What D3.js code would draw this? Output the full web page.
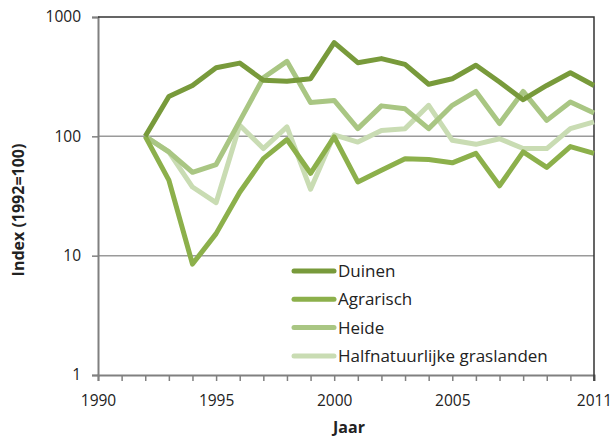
<!DOCTYPE html>
<html>
<head>
<meta charset="utf-8">
<script src="https://cdn.jsdelivr.net/npm/d3@7"></script>
<style>
  body { margin: 0; background: #fff; }
  text { font-family: "Open Sans", Lato, sans-serif; fill: #222; }
</style>
</head>
<body>
<svg id="chart" width="614" height="439"></svg>
<script>
// index values, 1992 = 100
var years = d3.range(1992, 2012);
var duinen = [100, 216, 267, 376, 411, 295, 290, 304, 610, 414, 448, 401, 273, 304, 394, 285, 203, 267, 341, 267];
var agrarisch = [100, 43, 8.5, 15.3, 34, 65, 94, 49, 99, 41.5, 52, 65, 64, 60, 72, 38.5, 74, 55, 82, 72];
var heide = [100, 74, 50, 58, 134, 310, 425, 192, 200, 116, 180, 170, 116, 182, 238, 128, 238, 136, 194, 157];
var halfnat = [100, 74, 37.6, 27.8, 124, 79, 120, 36, 103, 89.6, 112, 116, 182, 92.6, 85.7, 95.5, 79, 79, 116, 132];

var seriesNames = ["Duinen", "Agrarisch", "Heide", "Halfnatuurlijke graslanden"];
var seriesColors = ["#789a3b", "#8cb04b", "#a9c683", "#c9dcb3"];
var yTicks = [1, 10, 100, 1000];
var xLabels = [1990, 1995, 2000, 2005, 2011];

var series = [duinen, agrarisch, heide, halfnat];

var svg = d3.select("#chart");
var plotLeft = 98, plotRight = 594, plotTop = 17, plotBottom = 375;

var x = d3.scaleLinear().domain([1990, 2011]).range([plotLeft, plotRight]);
var y = d3.scaleLog().domain([1, 1000]).range([plotBottom, plotTop]);

// gridlines
svg.append("g")
    .selectAll("line")
    .data([10, 100])
    .enter().append("line")
    .attr("x1", plotLeft).attr("x2", plotRight)
    .attr("y1", function(d) { return y(d); })
    .attr("y2", function(d) { return y(d); })
    .attr("stroke", "#9a9a9a")
    .attr("stroke-width", 1.5);

// y axis
var yAxis = d3.axisLeft(y)
    .tickValues(yTicks)
    .tickFormat(d3.format("d"))
    .tickSize(6)
    .tickPadding(11);

var gy = svg.append("g")
    .attr("transform", "translate(" + plotLeft + ",0)")
    .call(yAxis);
gy.select(".domain").attr("stroke", "#808080").attr("stroke-width", 2);
gy.selectAll(".tick line").attr("stroke", "#808080").attr("stroke-width", 1.5);
gy.selectAll(".tick text").style("font-size", "15.5px").attr("fill", "#222");

// x axis
var xAxis = d3.axisBottom(x)
    .tickValues(d3.range(1990, 2012))
    .tickFormat(function(d) { return xLabels.indexOf(d) >= 0 ? d : ""; })
    .tickSize(6)
    .tickPadding(14);

var gx = svg.append("g")
    .attr("transform", "translate(0," + plotBottom + ")")
    .call(xAxis);
gx.select(".domain").attr("stroke", "#808080").attr("stroke-width", 2);
gx.selectAll(".tick line").attr("stroke", "#808080").attr("stroke-width", 1.5);
gx.selectAll(".tick text").style("font-size", "15.5px").attr("fill", "#222");

// plot border top and right
svg.append("path")
    .attr("d", "M" + plotLeft + "," + y(1000) + "H" + plotRight + "V" + (plotBottom + 6))
    .attr("fill", "none")
    .attr("stroke", "#333")
    .attr("stroke-width", 1.5);

// lines
var line = d3.line()
    .x(function(d, i) { return x(years[i]); })
    .y(function(d) { return y(d); });

svg.append("g")
    .selectAll("path")
    .data([3, 2, 1, 0])
    .enter().append("path")
    .attr("d", function(k) { return line(series[k]); })
    .attr("fill", "none")
    .attr("stroke", function(k) { return seriesColors[k]; })
    .attr("stroke-width", 5)
    .attr("stroke-linejoin", "round");

// legend
var legend = svg.append("g")
    .attr("transform", "translate(294,271)");

var item = legend.selectAll("g")
    .data(seriesNames)
    .enter().append("g")
    .attr("transform", function(d, i) { return "translate(0," + (i * 28.3) + ")"; });

item.append("line")
    .attr("x1", 0).attr("x2", 40)
    .attr("stroke", function(d, i) { return seriesColors[i]; })
    .attr("stroke-width", 5)
    .attr("stroke-linecap", "round");

item.append("text")
    .attr("x", 44)
    .attr("dy", "0.35em")
    .style("font-size", "17px")
    .text(function(d) { return d; });

// axis titles
svg.append("text")
    .attr("transform", "translate(24," + ((plotTop + plotBottom) / 2 + 14) + ") rotate(-90)")
    .attr("text-anchor", "middle")
    .style("font-size", "16px")
    .style("font-weight", "bold")
    .text("Index (1992=100)");

svg.append("text")
    .attr("x", 349)
    .attr("y", 433)
    .attr("text-anchor", "middle")
    .style("font-size", "16px")
    .style("font-weight", "bold")
    .text("Jaar");
</script>
</body>
</html>
